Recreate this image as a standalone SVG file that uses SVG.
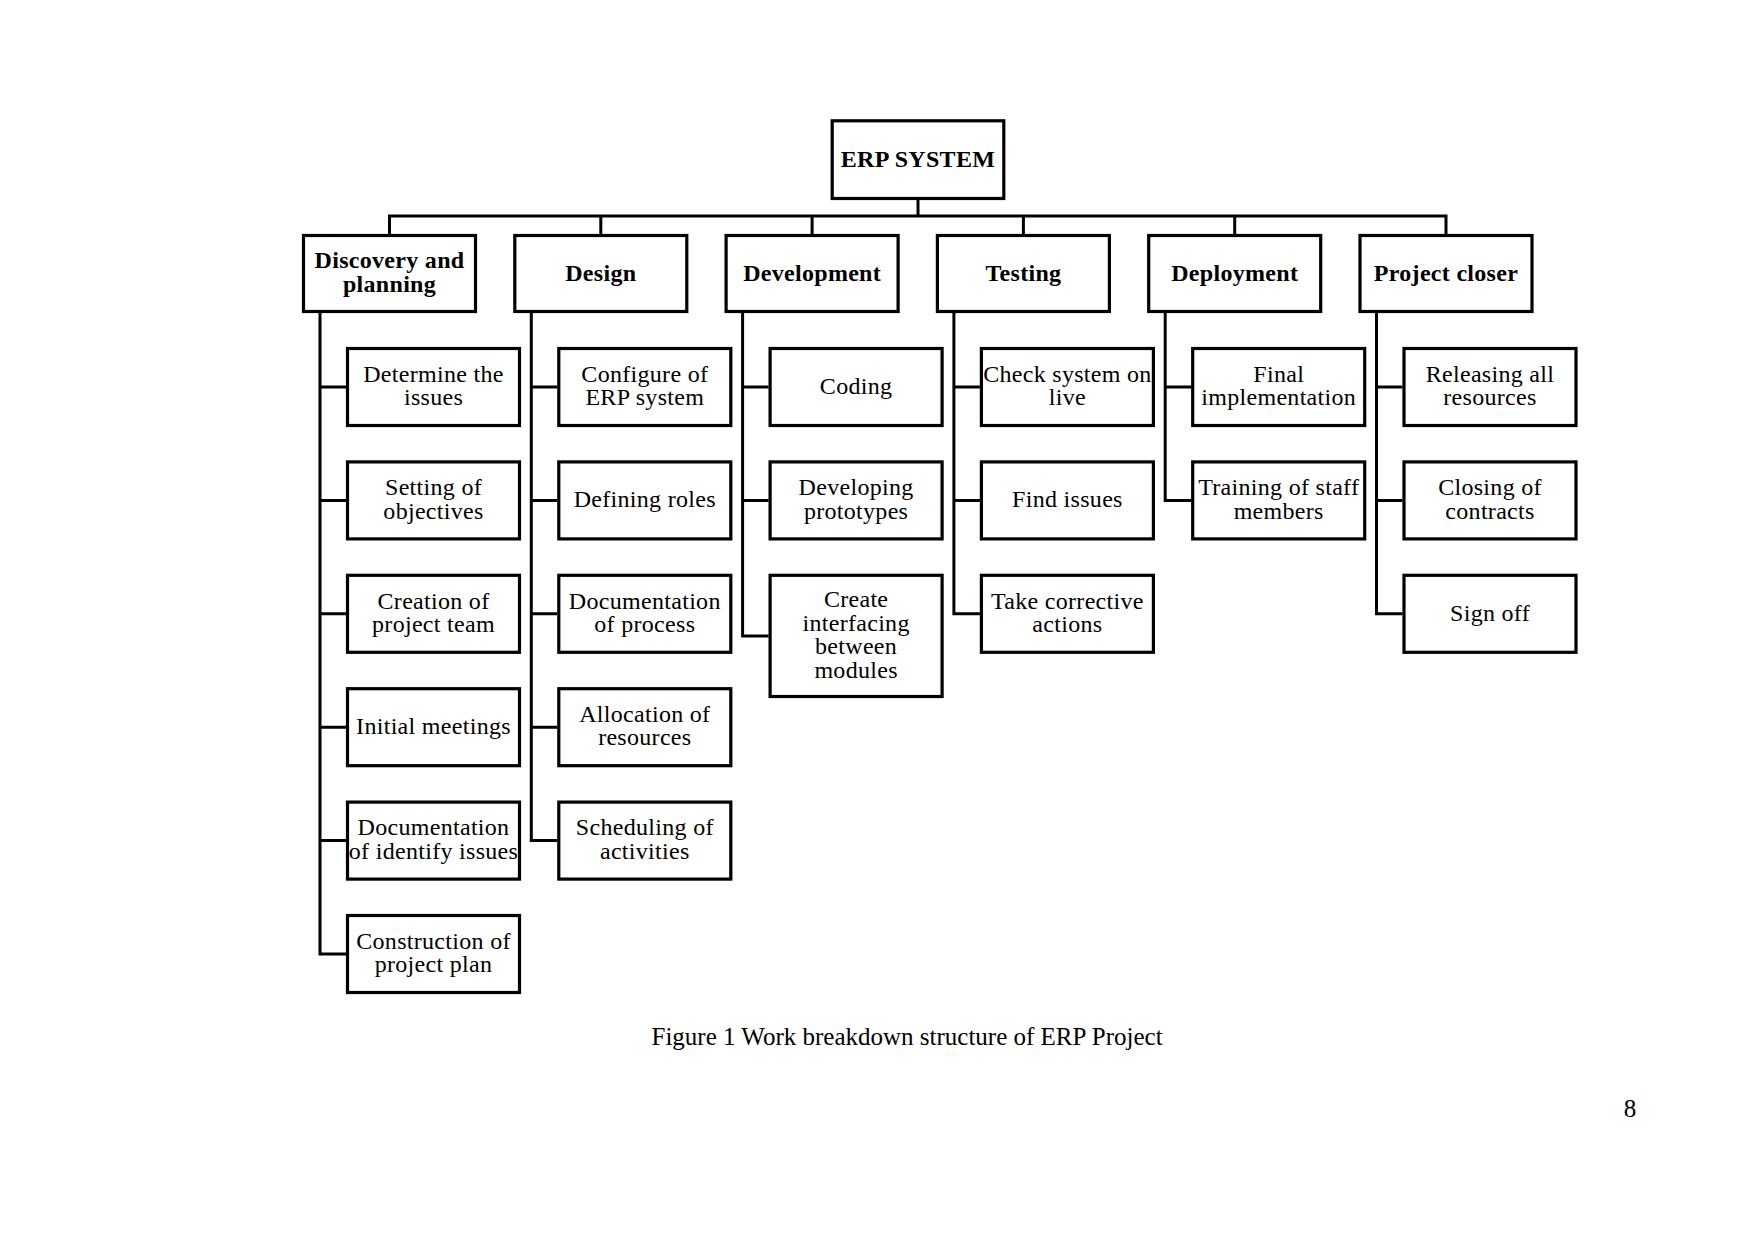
<svg xmlns="http://www.w3.org/2000/svg" width="1754" height="1241" viewBox="0 0 1754 1241">
<style>
.box{fill:#fff;stroke:#000;stroke-width:3.2}
.con{fill:none;stroke:#000;stroke-width:3;stroke-linejoin:miter;stroke-linecap:butt}
.t{font-family:"Liberation Serif","Times New Roman",serif;font-size:24px;letter-spacing:0.3px;text-anchor:middle;fill:#000}
.b{font-family:"Liberation Serif","Times New Roman",serif;font-size:24px;font-weight:bold;letter-spacing:0.3px;text-anchor:middle;fill:#000}
.cap{font-family:"Liberation Serif","Times New Roman",serif;font-size:25px;fill:#000}
</style>
<rect width="1754" height="1241" fill="#fff"/>
<g id="connectors">
<path class="con" d="M918,200 V216"/>
<path class="con" d="M389.5,234 V216 H1446 V234"/>
<path class="con" d="M600.8,216 V234 M812.1,216 V234 M1023.4,216 V234 M1234.7,216 V234"/>
<path class="con" d="M320,313 V954 H346 M320,387 H346 M320,500.4 H346 M320,613.8 H346 M320,727.2 H346 M320,840.6 H346"/>
<path class="con" d="M531.3,313 V840.6 H557.3 M531.3,387 H557.3 M531.3,500.4 H557.3 M531.3,613.8 H557.3 M531.3,727.2 H557.3"/>
<path class="con" d="M742.6,313 V635.9 H768.6 M742.6,387 H768.6 M742.6,500.4 H768.6"/>
<path class="con" d="M953.9,313 V613.8 H979.9 M953.9,387 H979.9 M953.9,500.4 H979.9"/>
<path class="con" d="M1165.2,313 V500.4 H1191.2 M1165.2,387 H1191.2"/>
<path class="con" d="M1376.5,313 V613.8 H1402.5 M1376.5,387 H1402.5 M1376.5,500.4 H1402.5"/>
</g>
<g id="erp"><rect class="box" x="832.2" y="120.8" width="171.6" height="77.7"/><text class="b" x="918" y="167">ERP SYSTEM</text></g>
<g id="discovery"><rect class="box" x="303.5" y="235.5" width="172" height="76"/><text class="b" x="389.5" y="268.25">Discovery and</text><text class="b" x="389.5" y="291.75">planning</text></g>
<g id="design"><rect class="box" x="514.8" y="235.5" width="172" height="76"/><text class="b" x="600.8" y="280.5">Design</text></g>
<g id="development"><rect class="box" x="726.1" y="235.5" width="172" height="76"/><text class="b" x="812.1" y="280.5">Development</text></g>
<g id="testing"><rect class="box" x="937.4" y="235.5" width="172" height="76"/><text class="b" x="1023.4" y="280.5">Testing</text></g>
<g id="deployment"><rect class="box" x="1148.7" y="235.5" width="172" height="76"/><text class="b" x="1234.7" y="280.5">Deployment</text></g>
<g id="closer"><rect class="box" x="1360" y="235.5" width="172" height="76"/><text class="b" x="1446" y="280.5">Project closer</text></g>

<g id="d1"><rect class="box" x="347.5" y="348.5" width="172" height="77"/><text class="t" x="433.5" y="381.75">Determine the</text><text class="t" x="433.5" y="405.25">issues</text></g>
<g id="d2"><rect class="box" x="347.5" y="461.9" width="172" height="77"/><text class="t" x="433.5" y="495.15">Setting of</text><text class="t" x="433.5" y="518.65">objectives</text></g>
<g id="d3"><rect class="box" x="347.5" y="575.3" width="172" height="77"/><text class="t" x="433.5" y="608.55">Creation of</text><text class="t" x="433.5" y="632.05">project team</text></g>
<g id="d4"><rect class="box" x="347.5" y="688.7" width="172" height="77"/><text class="t" x="433.5" y="734.2">Initial meetings</text></g>
<g id="d5"><rect class="box" x="347.5" y="802.1" width="172" height="77"/><text class="t" x="433.5" y="835.35">Documentation</text><text class="t" x="433.5" y="858.85">of identify issues</text></g>
<g id="d6"><rect class="box" x="347.5" y="915.5" width="172" height="77"/><text class="t" x="433.5" y="948.75">Construction of</text><text class="t" x="433.5" y="972.25">project plan</text></g>

<g id="s1"><rect class="box" x="558.8" y="348.5" width="172" height="77"/><text class="t" x="644.8" y="381.75">Configure of</text><text class="t" x="644.8" y="405.25">ERP system</text></g>
<g id="s2"><rect class="box" x="558.8" y="461.9" width="172" height="77"/><text class="t" x="644.8" y="507.4">Defining roles</text></g>
<g id="s3"><rect class="box" x="558.8" y="575.3" width="172" height="77"/><text class="t" x="644.8" y="608.55">Documentation</text><text class="t" x="644.8" y="632.05">of process</text></g>
<g id="s4"><rect class="box" x="558.8" y="688.7" width="172" height="77"/><text class="t" x="644.8" y="721.95">Allocation of</text><text class="t" x="644.8" y="745.45">resources</text></g>
<g id="s5"><rect class="box" x="558.8" y="802.1" width="172" height="77"/><text class="t" x="644.8" y="835.35">Scheduling of</text><text class="t" x="644.8" y="858.85">activities</text></g>

<g id="v1"><rect class="box" x="770.1" y="348.5" width="172" height="77"/><text class="t" x="856.1" y="394">Coding</text></g>
<g id="v2"><rect class="box" x="770.1" y="461.9" width="172" height="77"/><text class="t" x="856.1" y="495.15">Developing</text><text class="t" x="856.1" y="518.65">prototypes</text></g>
<g id="v3"><rect class="box" x="770.1" y="575.3" width="172" height="121.2"/><text class="t" x="856.1" y="607.15">Create</text><text class="t" x="856.1" y="630.65">interfacing</text><text class="t" x="856.1" y="654.15">between</text><text class="t" x="856.1" y="677.65">modules</text></g>

<g id="te1"><rect class="box" x="981.4" y="348.5" width="172" height="77"/><text class="t" x="1067.4" y="381.75">Check system on</text><text class="t" x="1067.4" y="405.25">live</text></g>
<g id="te2"><rect class="box" x="981.4" y="461.9" width="172" height="77"/><text class="t" x="1067.4" y="507.4">Find issues</text></g>
<g id="te3"><rect class="box" x="981.4" y="575.3" width="172" height="77"/><text class="t" x="1067.4" y="608.55">Take corrective</text><text class="t" x="1067.4" y="632.05">actions</text></g>

<g id="p1"><rect class="box" x="1192.7" y="348.5" width="172" height="77"/><text class="t" x="1278.7" y="381.75">Final</text><text class="t" x="1278.7" y="405.25">implementation</text></g>
<g id="p2"><rect class="box" x="1192.7" y="461.9" width="172" height="77"/><text class="t" x="1278.7" y="495.15">Training of staff</text><text class="t" x="1278.7" y="518.65">members</text></g>

<g id="c1"><rect class="box" x="1404" y="348.5" width="172" height="77"/><text class="t" x="1490" y="381.75">Releasing all</text><text class="t" x="1490" y="405.25">resources</text></g>
<g id="c2"><rect class="box" x="1404" y="461.9" width="172" height="77"/><text class="t" x="1490" y="495.15">Closing of</text><text class="t" x="1490" y="518.65">contracts</text></g>
<g id="c3"><rect class="box" x="1404" y="575.3" width="172" height="77"/><text class="t" x="1490" y="621">Sign off</text></g>

<text class="cap" x="651.5" y="1045">Figure 1 Work breakdown structure of ERP Project</text>
<text class="cap" x="1630" y="1116.5" text-anchor="middle">8</text>
</svg>
